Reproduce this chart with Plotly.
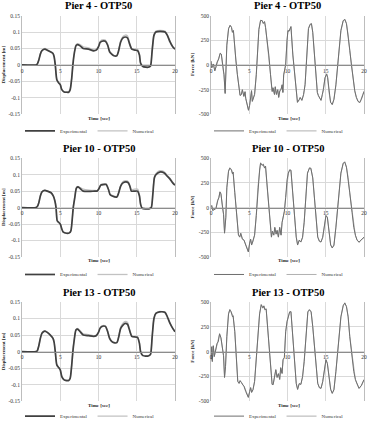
import plotly.graph_objects as go

W, H = 368, 431

# ---------------- data ----------------
time_ticks = [0, 5, 10, 15, 20]
time_tick_labels = ["0", "5", "10", "15", "20"]
disp_ticks = [-0.15, -0.1, -0.05, 0, 0.05, 0.1, 0.15]
disp_tick_labels = ["-0.15", "-0.1", "-0.05", "0", "0.05", "0.1", "0.15"]
force_ticks = [-500, -250, 0, 250, 500]
force_tick_labels = ["-500", "-250", "0", "250", "500"]

# Pier 4 / Pier 13 displacement time grid
t_disp_a = [0, 1.8, 2.0, 2.2, 2.4, 2.6, 2.8, 3.0, 3.3, 3.7,
            4.05, 4.2, 4.35, 4.55, 4.8, 5.0, 5.2, 5.5, 5.8, 6.1,
            6.3, 6.5, 6.65, 6.8, 7.05, 7.26, 7.6, 8.0, 8.7, 9.35,
            9.7, 10.0, 10.2, 10.45, 10.9, 11.2, 11.45, 11.75, 12.0, 12.4,
            12.6, 12.9, 13.2, 13.5, 13.8, 14.05, 14.35, 14.8, 15.1, 15.35,
            15.5, 15.8, 16.5, 16.8, 17.0, 17.25, 17.5, 18.0, 18.7, 19.0,
            19.35, 19.7, 20.0]

p4_disp_exp = [0, 0, 0.003, 0.015, 0.033, 0.043, 0.047, 0.048, 0.045, 0.04,
               0.035, 0.025, 0.0, -0.045, -0.055, -0.06, -0.075, -0.082, -0.083, -0.083,
               -0.075, -0.04, 0.0, 0.03, 0.058, 0.062, 0.058, 0.05, 0.048, 0.043,
               0.045, 0.055, 0.068, 0.072, 0.072, 0.06, 0.04, 0.032, 0.028, 0.028,
               0.04, 0.07, 0.082, 0.085, 0.082, 0.065, 0.048, 0.045, 0.044, 0.03,
               0.005, -0.005, -0.007, -0.003, 0.04, 0.09, 0.1, 0.102, 0.1, 0.09,
               0.07, 0.055, 0.048]
p4_disp_num = [0, 0, 0.003, 0.016, 0.034, 0.044, 0.048, 0.05, 0.047, 0.041,
               0.036, 0.026, 0.001, -0.044, -0.054, -0.059, -0.074, -0.081, -0.081, -0.082,
               -0.074, -0.039, 0.002, 0.033, 0.061, 0.065, 0.062, 0.055, 0.052, 0.047,
               0.048, 0.058, 0.071, 0.076, 0.076, 0.063, 0.043, 0.034, 0.029, 0.029,
               0.042, 0.074, 0.087, 0.091, 0.088, 0.069, 0.05, 0.049, 0.048, 0.033,
               0.007, -0.004, -0.006, -0.002, 0.042, 0.093, 0.103, 0.105, 0.103, 0.092,
               0.072, 0.056, 0.049]

p13_disp_exp = [0, 0, 0.003, 0.018, 0.04, 0.055, 0.06, 0.062, 0.058, 0.05,
                0.04, 0.028, 0.0, -0.04, -0.048, -0.055, -0.075, -0.085, -0.087, -0.087,
                -0.08, -0.04, 0.0, 0.03, 0.065, 0.068, 0.06, 0.05, 0.048, 0.046,
                0.048, 0.058, 0.07, 0.076, 0.076, 0.06, 0.04, 0.03, 0.027, 0.027,
                0.04, 0.07, 0.08, 0.085, 0.082, 0.065, 0.046, 0.044, 0.043, 0.025,
                0.0, -0.012, -0.013, -0.008, 0.04, 0.1, 0.115, 0.12, 0.118, 0.105,
                0.085, 0.07, 0.06]
p13_disp_num = [0, 0, 0.003, 0.018, 0.041, 0.056, 0.061, 0.063, 0.059, 0.051,
                0.041, 0.029, 0.001, -0.039, -0.047, -0.054, -0.074, -0.084, -0.086, -0.086,
                -0.079, -0.039, 0.002, 0.032, 0.066, 0.07, 0.063, 0.054, 0.051, 0.048,
                0.05, 0.06, 0.072, 0.078, 0.078, 0.062, 0.042, 0.031, 0.028, 0.028,
                0.042, 0.074, 0.086, 0.091, 0.088, 0.068, 0.048, 0.046, 0.045, 0.027,
                0.001, -0.011, -0.012, -0.007, 0.042, 0.101, 0.116, 0.121, 0.119, 0.106,
                0.086, 0.071, 0.061]

# Pier 10 displacement time grid
t_disp_b = [0, 1.8, 2.0, 2.2, 2.4, 2.6, 2.8, 3.0, 3.3, 3.8,
            4.1, 4.3, 4.45, 4.6, 4.8, 5.0, 5.2, 5.4, 5.8, 6.2,
            6.4, 6.55, 6.7, 6.9, 7.1, 7.3, 7.6, 8.0, 8.8, 9.5,
            9.8, 10.0, 10.3, 10.6, 11.0, 11.3, 11.5, 11.8, 12.4, 12.6,
            12.9, 13.2, 13.6, 13.9, 14.1, 14.3, 14.7, 15.1, 15.35, 15.5,
            15.7, 16.6, 16.9, 17.1, 17.3, 17.5, 18.0, 18.6, 19.0, 19.3,
            19.7, 20.0]
p10_disp_exp = [0, 0, 0.003, 0.015, 0.035, 0.047, 0.051, 0.052, 0.05, 0.045,
                0.035, 0.02, 0.0, -0.04, -0.045, -0.05, -0.065, -0.075, -0.078, -0.077,
                -0.07, -0.04, 0.0, 0.03, 0.058, 0.063, 0.058, 0.05, 0.049, 0.05,
                0.05, 0.055, 0.068, 0.07, 0.07, 0.055, 0.04, 0.035, 0.032, 0.042,
                0.065, 0.075, 0.078, 0.075, 0.065, 0.05, 0.05, 0.05, 0.035, 0.01,
                -0.002, -0.004, 0.0, 0.04, 0.09, 0.1, 0.108, 0.105, 0.095, 0.088,
                0.075, 0.068]
p10_disp_num = [0, 0, 0.003, 0.016, 0.036, 0.048, 0.052, 0.053, 0.051, 0.046,
                0.036, 0.021, 0.001, -0.039, -0.044, -0.049, -0.064, -0.074, -0.077, -0.076,
                -0.069, -0.039, 0.002, 0.033, 0.061, 0.064, 0.061, 0.056, 0.053, 0.052,
                0.052, 0.057, 0.07, 0.072, 0.072, 0.057, 0.042, 0.037, 0.034, 0.044,
                0.068, 0.079, 0.082, 0.079, 0.068, 0.055, 0.056, 0.056, 0.04, 0.012,
                -0.001, -0.003, 0.001, 0.042, 0.093, 0.103, 0.112, 0.109, 0.098, 0.09,
                0.077, 0.069]

# Pier 4 force
t_p4_force = [0, 0.1, 0.3, 0.5, 0.65, 0.8, 1.0, 1.2, 1.35, 1.6,
              1.7, 1.85, 1.95, 2.07, 2.3, 2.5, 2.68, 2.8, 2.93, 3.1,
              3.25, 3.45, 3.67, 3.8, 3.97, 4.1, 4.3, 4.45, 4.54, 4.75,
              4.9, 5.05, 5.2, 5.3, 5.4, 5.53, 5.7, 5.92, 6.13, 6.26,
              6.48, 6.7, 6.83, 7.0, 7.13, 7.26, 7.56, 7.78, 7.9, 8.0,
              8.1, 8.3, 8.4, 8.55, 8.72, 8.85, 9.0, 9.15, 9.3, 9.4,
              9.5, 9.63, 9.76, 9.94, 10.06, 10.2, 10.37, 10.45, 10.7, 10.93,
              11.15, 11.3, 11.54, 11.66, 11.88, 12.1, 12.3, 12.53, 12.74, 12.96,
              13.13, 13.3, 13.52, 13.74, 13.9, 14.04, 14.25, 14.38, 14.55, 14.7,
              14.9, 15.12, 15.25, 15.42, 15.63, 15.85, 16.07, 16.33, 16.55, 16.76,
              16.98, 17.28, 17.5, 17.71, 17.93, 18.14, 18.36, 18.57, 18.79, 19.0,
              19.22, 19.44, 19.65, 19.87, 20.0]
p4_force_exp = [40, -30, 10, -60, -20, 30, 60, 120, 110, -60,
                -100, -290, -120, 200, 370, 400, 380, 330, 350, 150,
                50, -100, -250, -310, -300, -250, -320, -270, -340, -430,
                -460, -410, -320, -260, -370, -330, -300, -100, 200, 360,
                450, 450, 420, 440, 380, 300, 100, -100, -200, -270,
                -230, -300, -220, -300, -250, -330, -260, -250, -200, -280,
                -100, -50, 0, 250, 350, 340, 380, 390, 100, -100,
                -300, -380, -350, -330, -360, -300, -200, 150, 370, 410,
                420, 330, 100, -100, -280, -310, -340, -360, -300, -250,
                -130, -90, -130, -280, -380, -400, -350, -200, 0, 200,
                350, 450, 460, 420, 300, 150, 0, -150, -260, -330,
                -370, -380, -350, -300, -270]
p4_force_num = [35, -25, 10, -55, -20, 30, 65, 115, 105, -55,
                -100, -280, -115, 205, 365, 405, 385, 335, 345, 155,
                50, -95, -245, -305, -300, -255, -315, -275, -335, -425,
                -455, -405, -325, -265, -365, -330, -295, -95, 205, 360,
                455, 445, 425, 435, 385, 295, 100, -95, -205, -265,
                -235, -295, -225, -295, -255, -325, -265, -245, -205, -275,
                -105, -45, 5, 245, 345, 345, 375, 385, 105, -95,
                -295, -375, -355, -330, -355, -305, -195, 145, 365, 415,
                415, 335, 105, -95, -275, -315, -335, -355, -305, -245,
                -135, -95, -125, -275, -375, -405, -345, -205, 5, 205,
                345, 445, 465, 415, 305, 145, 5, -145, -265, -325,
                -365, -385, -345, -305, -265]

# Pier 10 force
t_p10_force = [0, 0.09, 0.22, 0.43, 0.65, 0.86, 1.04, 1.17, 1.3, 1.51,
               1.64, 1.77, 1.94, 2.07, 2.29, 2.46, 2.68, 2.81, 2.89, 3.11,
               3.37, 3.59, 3.76, 3.89, 4.1, 4.32, 4.54, 4.75, 4.88, 5.05,
               5.18, 5.31, 5.49, 5.7, 5.92, 6.13, 6.35, 6.48, 6.7, 6.83,
               7.0, 7.13, 7.34, 7.56, 7.78, 7.9, 8.03, 8.21, 8.34, 8.51,
               8.64, 8.81, 8.98, 9.16, 9.29, 9.42, 9.59, 9.76, 9.94, 10.11,
               10.28, 10.45, 10.67, 10.93, 11.14, 11.32, 11.53, 11.75, 11.97, 12.18,
               12.4, 12.61, 12.87, 13.05, 13.3, 13.52, 13.74, 13.95, 14.17, 14.38,
               14.6, 14.77, 15.03, 15.21, 15.42, 15.64, 15.85, 16.07, 16.33, 16.54,
               16.76, 16.98, 17.28, 17.49, 17.71, 17.93, 18.14, 18.44, 18.66, 18.88,
               19.09, 19.35, 19.65, 20.0]
p10_force_exp = [10, 20, -30, -20, -10, 70, 100, 160, 140, 0,
                 -70, -260, -100, 200, 370, 400, 380, 340, 360, 150,
                 -50, -280, -300, -260, -320, -330, -380, -420, -450, -360,
                 -320, -380, -340, -280, -80, 200, 380, 450, 430, 440,
                 400, 420, 200, 0, -200, -300, -240, -280, -200, -270,
                 -230, -300, -200, -280, -150, -100, -40, 100, 280, 350,
                 380, 380, 150, -100, -300, -380, -330, -350, -300, -150,
                 100, 350, 400, 400, 300, 80, -100, -300, -340, -350,
                 -300, -200, -80, -100, -250, -380, -410, -380, -200, 0,
                 200, 350, 450, 460, 410, 300, 150, -50, -200, -280,
                 -330, -350, -330, -300]
p10_force_num = [5, 20, -25, -20, -5, 65, 105, 155, 135, 5,
                 -65, -250, -95, 205, 365, 405, 385, 345, 355, 155,
                 -45, -275, -295, -265, -315, -335, -375, -415, -445, -365,
                 -325, -375, -345, -275, -75, 205, 375, 455, 425, 435,
                 405, 415, 205, 5, -195, -295, -245, -275, -205, -265,
                 -235, -295, -205, -275, -155, -95, -35, 105, 275, 345,
                 385, 375, 155, -95, -295, -375, -335, -345, -305, -145,
                 105, 345, 405, 395, 305, 85, -95, -295, -345, -345,
                 -305, -195, -85, -95, -245, -375, -405, -385, -195, 5,
                 205, 345, 445, 465, 405, 305, 145, -45, -195, -285,
                 -325, -355, -325, -305]

# Pier 13 force
t_p13_force = [0, 0.09, 0.17, 0.3, 0.43, 0.6, 0.78, 0.95, 1.12, 1.3,
               1.47, 1.64, 1.77, 1.9, 2.07, 2.29, 2.46, 2.63, 2.81, 2.89,
               3.11, 3.33, 3.5, 3.67, 3.8, 3.97, 4.15, 4.32, 4.54, 4.75,
               4.88, 5.05, 5.18, 5.31, 5.49, 5.7, 5.92, 6.13, 6.35, 6.57,
               6.78, 6.91, 7.04, 7.21, 7.43, 7.65, 7.86, 7.99, 8.12, 8.29,
               8.47, 8.64, 8.81, 8.98, 9.11, 9.29, 9.42, 9.59, 9.76, 9.94,
               10.11, 10.28, 10.45, 10.67, 10.93, 11.14, 11.32, 11.53, 11.75, 11.97,
               12.18, 12.44, 12.66, 12.87, 13.09, 13.3, 13.52, 13.74, 13.95, 14.17,
               14.38, 14.6, 14.82, 15.03, 15.21, 15.42, 15.64, 15.85, 16.07, 16.33,
               16.54, 16.76, 16.98, 17.28, 17.49, 17.71, 17.93, 18.14, 18.44, 18.66,
               18.88, 19.09, 19.35, 19.65, 20.0]
p13_force_exp = [-80, 50, -100, 60, -50, 0, 80, 100, 180, 140,
                 20, -40, -260, -150, 150, 380, 420, 400, 350, 360,
                 200, -50, -300, -320, -290, -310, -330, -350, -400, -450,
                 -460, -400, -360, -410, -380, -300, -80, 200, 380, 470,
                 440, 460, 420, 430, 200, -50, -280, -330, -330, -250,
                 -180, -260, -220, -280, -160, -220, -80, -60, 200, 300,
                 340, 400, 400, 150, -150, -320, -380, -320, -330, -250,
                 -100, 200, 400, 420, 400, 250, 50, -150, -320, -360,
                 -370, -300, -180, -80, -120, -250, -380, -420, -380, -200,
                 0, 200, 350, 460, 490, 450, 350, 150, -50, -200,
                 -280, -330, -370, -340, -280]
p13_force_num = [-75, 45, -95, 55, -45, 5, 75, 105, 175, 135,
                 25, -45, -250, -145, 155, 375, 425, 395, 355, 355,
                 205, -45, -295, -315, -295, -305, -335, -345, -395, -445,
                 -455, -405, -365, -405, -385, -295, -75, 205, 375, 475,
                 435, 455, 425, 425, 205, -45, -275, -325, -335, -245,
                 -185, -255, -225, -275, -165, -215, -85, -55, 195, 305,
                 345, 395, 405, 155, -145, -315, -375, -325, -325, -255,
                 -95, 205, 395, 425, 395, 255, 55, -145, -315, -365,
                 -365, -305, -175, -85, -115, -245, -375, -415, -385, -195,
                 5, 205, 345, 465, 485, 455, 345, 155, -45, -195,
                 -285, -325, -365, -345, -285]

titles = ["Pier 4 - OTP50", "Pier 4 - OTP50",
          "Pier 10 - OTP50", "Pier 10 - OTP50",
          "Pier 13 - OTP50", "Pier 13 - OTP50"]
series_names = ["Experimental", "Numerical"]

panels = [
    dict(t=t_disp_a, exp=p4_disp_exp, num=p4_disp_num, kind="disp"),
    dict(t=t_p4_force, exp=p4_force_exp, num=p4_force_num, kind="force"),
    dict(t=t_disp_b, exp=p10_disp_exp, num=p10_disp_num, kind="disp"),
    dict(t=t_p10_force, exp=p10_force_exp, num=p10_force_num, kind="force"),
    dict(t=t_disp_a, exp=p13_disp_exp, num=p13_disp_num, kind="disp"),
    dict(t=t_p13_force, exp=p13_force_exp, num=p13_force_num, kind="force"),
]

# ---------------- layout (pixel boxes) ----------------
col_px = [(22, 175), (211, 364)]
row_px = [(16, 117), (162, 263), (309, 411)]
title_y_px = [6, 152, 299]
legend_y_px = [134, 281, 426]

def px_x(px):
    return px / W

def px_y(py):
    return 1 - py / H

SERIF = "Liberation Serif, Times New Roman, serif"
GRID = "#d9d9d9"
styles = {
    "disp": dict(exp=dict(color="#404040", width=1.7, shape="spline", smoothing=0.6),
                 num=dict(color="#c2c2c2", width=1.3, shape="spline", smoothing=0.6)),
    "force": dict(exp=dict(color="#6e6e6e", width=1.0),
                  num=dict(color="#b0b0b0", width=1.0)),
}

fig = go.Figure()
layout = dict(
    width=W, height=H,
    margin=dict(l=0, r=0, t=0, b=0),
    paper_bgcolor="white", plot_bgcolor="white",
    font=dict(family=SERIF, size=5, color="#333333"),
    annotations=[],
)

for i, p in enumerate(panels):
    k = i + 1
    r, c = divmod(i, 2)
    x0, x1 = col_px[c]
    top, bot = row_px[r]
    xd = [px_x(x0), px_x(x1)]
    yd = [px_y(bot), px_y(top)]
    if p["kind"] == "disp":
        yr = [-0.15, 0.15]
        yt, ytl = disp_ticks, disp_tick_labels
        ytitle = "Displacement [m]"
        ytitle_x = 3.5
        xtitle_x = 99
        leg_x = 90
    else:
        yr = [-500, 500]
        yt, ytl = force_ticks, force_tick_labels
        ytitle = "Force [kN]"
        ytitle_x = 193
        xtitle_x = 289
        leg_x = 279
    zero_pos = yd[0] + (0 - yr[0]) / (yr[1] - yr[0]) * (yd[1] - yd[0])
    xa = "x" if k == 1 else f"x{k}"
    ya = "y" if k == 1 else f"y{k}"
    leg = "legend" if k == 1 else f"legend{k}"
    st = styles[p["kind"]]
    fig.add_trace(go.Scatter(
        x=p["t"], y=p["num"], mode="lines", name=series_names[1],
        line=st["num"], xaxis=xa, yaxis=ya, legend=leg, legendrank=2,
        hoverinfo="skip"))
    fig.add_trace(go.Scatter(
        x=p["t"], y=p["exp"], mode="lines", name=series_names[0],
        line=st["exp"], xaxis=xa, yaxis=ya, legend=leg, legendrank=1,
        hoverinfo="skip"))

    layout["xaxis" if k == 1 else f"xaxis{k}"] = dict(
        domain=xd, range=[0, 20], anchor="free", position=zero_pos,
        tickvals=time_ticks, ticktext=time_tick_labels, tickangle=0,
        showgrid=True, gridcolor=GRID, gridwidth=1,
        showline=True, linecolor="#8c8c8c", linewidth=1,
        zeroline=False, ticks="", ticklen=0, automargin=False,
        tickfont=dict(family=SERIF, size=5.5, color="#333333"),
        fixedrange=True)
    layout["yaxis" if k == 1 else f"yaxis{k}"] = dict(
        domain=yd, range=yr, anchor=xa,
        tickvals=yt, ticktext=ytl, tickangle=0,
        showgrid=True, gridcolor=GRID, gridwidth=1,
        showline=True, linecolor="#bdbdbd", linewidth=1, mirror=True,
        zeroline=False, ticks="", automargin=False,
        tickfont=dict(family=SERIF, size=5.5, color="#333333"),
        fixedrange=True)
    layout[leg] = dict(
        orientation="h", x=px_x(leg_x), y=px_y(legend_y_px[r]),
        xanchor="center", yanchor="middle",
        font=dict(family=SERIF, size=5, color="#333333"),
        bgcolor="rgba(0,0,0,0)", itemwidth=30, tracegroupgap=0,
        traceorder="normal")
    layout["annotations"].append(dict(
        text=f"<b>{titles[i]}</b>", xref="paper", yref="paper",
        x=(xd[0] + xd[1]) / 2, y=px_y(title_y_px[r]),
        xanchor="center", yanchor="middle", showarrow=False,
        font=dict(family=SERIF, size=10.5, color="#000000")))
    layout["annotations"].append(dict(
        text=f"<b>{ytitle}</b>", xref="paper", yref="paper",
        x=px_x(ytitle_x), y=(yd[0] + yd[1]) / 2, textangle=-90,
        xanchor="center", yanchor="middle", showarrow=False,
        font=dict(family=SERIF, size=5, color="#222222")))
    layout["annotations"].append(dict(
        text="<b>Time [sec]</b>", xref="paper", yref="paper",
        x=px_x(xtitle_x), y=px_y(bot + 4), xanchor="center", yanchor="middle",
        showarrow=False, font=dict(family=SERIF, size=5, color="#222222")))

fig.update_layout(**layout)
# remove the browser's default 8px page margin so the figure sits at (0, 0)
fig.write_html("out.html",
               config={"displayModeBar": False, "staticPlot": True},
               post_script="document.body.style.margin='0';"
                           "document.body.style.overflow='hidden';")
